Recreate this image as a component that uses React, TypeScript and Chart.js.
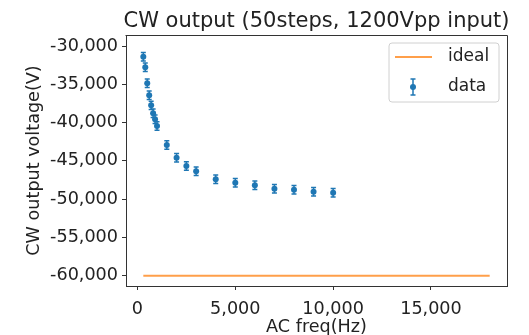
import React, { useEffect, useRef } from "react";
import { Chart, registerables } from "chart.js";

Chart.register(...registerables);

const freqs = [300, 400, 500, 600, 700, 800, 900, 1000, 1500, 2000, 2500, 3000, 4000, 5000, 6000, 7000, 8000, 9000, 10000];
const voltages = [-31400, -32780, -34870, -36440, -37750, -38790, -39570, -40450, -42930, -44590, -45670, -46360, -47410, -47850, -48190, -48640, -48770, -49030, -49160];
const errors = [550, 550, 550, 550, 550, 550, 550, 550, 550, 550, 550, 550, 550, 550, 550, 550, 550, 550, 550];
const idealX = [300, 18000];
const idealY = [-60000, -60000];
const xTicks = [0, 5000, 10000, 15000];
const yTicks = [-60000, -55000, -50000, -45000, -40000, -35000, -30000];
const titleText = "CW output (50steps, 1200Vpp input)";
const xLabel = "AC freq(Hz)";
const yLabel = "CW output voltage(V)";
const legendLabels = ["ideal", "data"];

const FONT = "'DejaVu Sans', sans-serif";
const BLUE = "#1f77b4";
const ORANGE = "#ff7f0e";
const TXT = "#222222";

const fmt = (v: number) => v.toLocaleString("en-US");

const customPlugin = {
  id: "customDraw",
  afterDatasetsDraw(chart: any) {
    const ctx = chart.ctx;
    const xs = chart.scales.x;
    const ys = chart.scales.y;
    const ca = chart.chartArea;
    ctx.save();
    // error bars
    ctx.strokeStyle = BLUE;
    ctx.lineWidth = 1.5;
    for (let i = 0; i < freqs.length; i++) {
      const px = xs.getPixelForValue(freqs[i]);
      const y1 = ys.getPixelForValue(voltages[i] + errors[i]);
      const y2 = ys.getPixelForValue(voltages[i] - errors[i]);
      ctx.beginPath();
      ctx.moveTo(px, y1);
      ctx.lineTo(px, y2);
      ctx.moveTo(px - 2.5, y1);
      ctx.lineTo(px + 2.5, y1);
      ctx.moveTo(px - 2.5, y2);
      ctx.lineTo(px + 2.5, y2);
      ctx.stroke();
    }
    // top & right spines
    ctx.strokeStyle = "#333333";
    ctx.lineWidth = 1;
    ctx.beginPath();
    ctx.moveTo(Math.round(ca.left) - 0.5, Math.round(ca.top) + 0.5);
    ctx.lineTo(Math.round(ca.right) + 0.5, Math.round(ca.top) + 0.5);
    ctx.lineTo(Math.round(ca.right) + 0.5, Math.round(ca.bottom) + 0.5);
    ctx.stroke();
    // title
    ctx.fillStyle = TXT;
    ctx.font = `21px ${FONT}`;
    ctx.textAlign = "center";
    ctx.textBaseline = "alphabetic";
    ctx.fillText(titleText, (ca.left + ca.right) / 2, 27);
    // legend
    const lx = 389, ly = 43, lw = 110, lh = 59;
    ctx.beginPath();
    const r = 3;
    ctx.moveTo(lx + r, ly);
    ctx.lineTo(lx + lw - r, ly);
    ctx.quadraticCurveTo(lx + lw, ly, lx + lw, ly + r);
    ctx.lineTo(lx + lw, ly + lh - r);
    ctx.quadraticCurveTo(lx + lw, ly + lh, lx + lw - r, ly + lh);
    ctx.lineTo(lx + r, ly + lh);
    ctx.quadraticCurveTo(lx, ly + lh, lx, ly + lh - r);
    ctx.lineTo(lx, ly + r);
    ctx.quadraticCurveTo(lx, ly, lx + r, ly);
    ctx.closePath();
    ctx.fillStyle = "rgba(255,255,255,0.8)";
    ctx.fill();
    ctx.strokeStyle = "#d0d0d0";
    ctx.lineWidth = 1;
    ctx.stroke();
    // ideal entry
    ctx.strokeStyle = ORANGE;
    ctx.globalAlpha = 0.75;
    ctx.lineWidth = 2;
    ctx.beginPath();
    ctx.moveTo(395, 57);
    ctx.lineTo(432, 57);
    ctx.stroke();
    ctx.globalAlpha = 1;
    // data entry
    ctx.strokeStyle = BLUE;
    ctx.lineWidth = 1.5;
    ctx.beginPath();
    ctx.moveTo(413, 79);
    ctx.lineTo(413, 95);
    ctx.moveTo(410.5, 79);
    ctx.lineTo(415.5, 79);
    ctx.moveTo(410.5, 95);
    ctx.lineTo(415.5, 95);
    ctx.stroke();
    ctx.fillStyle = BLUE;
    ctx.beginPath();
    ctx.arc(413, 87, 3, 0, Math.PI * 2);
    ctx.fill();
    ctx.fillStyle = TXT;
    ctx.font = `17px ${FONT}`;
    ctx.textAlign = "left";
    ctx.textBaseline = "middle";
    ctx.fillText(legendLabels[0], 448, 57);
    ctx.fillText(legendLabels[1], 448, 87);
    ctx.restore();
  },
};

export default function App() {
  const ref = useRef<HTMLCanvasElement | null>(null);
  useEffect(() => {
    document.body.style.margin = "0";
    const canvas = ref.current;
    if (!canvas) return;
    const chart = new Chart(canvas, {
      type: "scatter",
      data: {
        datasets: [
          {
            label: legendLabels[0],
            data: idealX.map((x, i) => ({ x, y: idealY[i] })),
            showLine: true,
            borderColor: "rgba(255,127,14,0.75)",
            borderWidth: 2,
            pointRadius: 0,
          },
          {
            label: legendLabels[1],
            data: freqs.map((x, i) => ({ x, y: voltages[i] })),
            showLine: false,
            backgroundColor: BLUE,
            borderColor: BLUE,
            pointRadius: 3,
            borderWidth: 0,
          },
        ],
      },
      options: {
        responsive: false,
        animation: false,
        layout: { padding: { top: 35, left: 0, right: 22, bottom: 0 } },
        plugins: {
          legend: { display: false },
          title: { display: false },
          tooltip: { enabled: false },
        },
        scales: {
          x: {
            type: "linear",
            min: -585,
            max: 18885,
            afterBuildTicks: (s: any) => {
              s.ticks = xTicks.map((v) => ({ value: v }));
            },
            afterFit: (s: any) => {
              s.height = 49;
            },
            grid: { drawOnChartArea: false, drawTicks: true, tickLength: 4, color: "#333333" },
            border: { display: true, color: "#333333", width: 1 },
            ticks: {
              color: TXT,
              font: { family: FONT, size: 17.6 },
              padding: 9,
              maxRotation: 0,
              autoSkip: false,
              callback: (v: any) => fmt(Number(v)),
            },
            title: {
              display: true,
              text: xLabel,
              color: TXT,
              font: { family: FONT, size: 17.6 },
              padding: { top: 0, bottom: -3 },
            },
          },
          y: {
            type: "linear",
            min: -61340,
            max: -28563,
            afterBuildTicks: (s: any) => {
              s.ticks = yTicks.map((v) => ({ value: v }));
            },
            afterFit: (s: any) => {
              s.width = 126;
            },
            grid: { drawOnChartArea: false, drawTicks: true, tickLength: 4, color: "#333333" },
            border: { display: true, color: "#333333", width: 1 },
            ticks: {
              color: TXT,
              font: { family: FONT, size: 17.6 },
              padding: 4,
              autoSkip: false,
              callback: (v: any) => fmt(Number(v)),
            },
            title: {
              display: true,
              text: yLabel,
              color: TXT,
              font: { family: FONT, size: 17.6 },
              padding: { top: 24, bottom: 0 },
            },
          },
        },
      },
      plugins: [customPlugin],
    } as any);
    return () => chart.destroy();
  }, []);
  return (
    <div style={{ position: "absolute", left: 0, top: 0, width: 529, height: 335 }}>
      <canvas ref={ref} width={529} height={335} style={{ width: 529, height: 335 }} />
    </div>
  );
}
